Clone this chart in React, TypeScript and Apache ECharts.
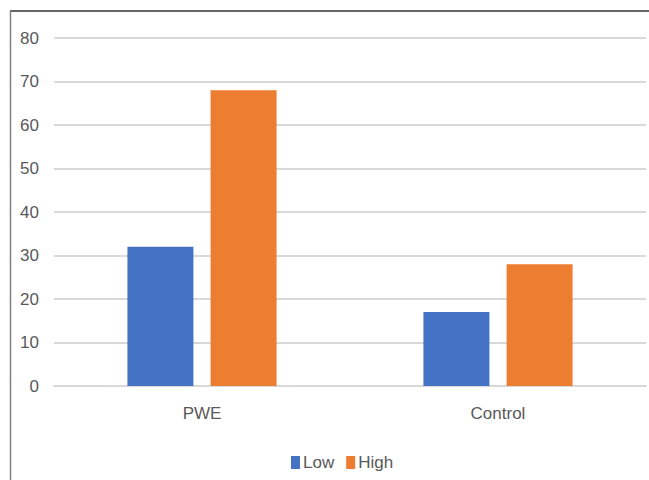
import React, { useEffect, useRef } from "react";
import * as echarts from "echarts";

const categories = ["PWE", "Control"];
const lowValues = [32, 17];
const highValues = [68, 28];
const yTicks = { min: 0, max: 80, interval: 10 };

export default function App() {
  const ref = useRef<HTMLDivElement>(null);
  useEffect(() => {
    if (!ref.current) return;
    const chart = echarts.init(ref.current, null, { renderer: "svg" });
    const font = "'Liberation Sans', Arial, sans-serif";
    chart.setOption({
      animation: false,
      backgroundColor: "#ffffff",
      grid: { left: 54, right: 3, top: 38, bottom: 94, containLabel: false },
      legend: {
        left: 286,
        top: 449,
        itemWidth: 9,
        itemHeight: 13,
        itemGap: 12,
        icon: "rect",
        textStyle: { fontFamily: font, fontSize: 17, color: "#595959", padding: [0, 0, 0, -2] },
        data: ["Low", "High"],
      },
      xAxis: {
        type: "category",
        data: categories,
        axisLine: { show: true, lineStyle: { color: "#D9D9D9", width: 2 } },
        axisTick: { show: false },
        axisLabel: { fontFamily: font, fontSize: 17, color: "#595959", margin: 19 },
      },
      yAxis: {
        type: "value",
        min: yTicks.min,
        max: yTicks.max,
        interval: yTicks.interval,
        axisLine: { show: false },
        axisTick: { show: false },
        splitLine: { lineStyle: { color: "#D9D9D9", width: 2 } },
        axisLabel: { fontFamily: font, fontSize: 17, color: "#595959", margin: 15 },
      },
      series: [
        {
          name: "Low",
          type: "bar",
          data: lowValues,
          barWidth: 66,
          barGap: "26%",
          itemStyle: { color: "#4472C4" },
        },
        {
          name: "High",
          type: "bar",
          data: highValues,
          barWidth: 66,
          itemStyle: { color: "#ED7D31" },
        },
      ],
      graphic: [
        { type: "line", shape: { x1: 10, y1: 11, x2: 649, y2: 11 }, style: { stroke: "#333333", lineWidth: 1.5 } },
        { type: "line", shape: { x1: 10.5, y1: 11, x2: 10.5, y2: 480 }, style: { stroke: "#808080", lineWidth: 1.5 } },
      ],
    });
    return () => chart.dispose();
  }, []);
  return (
    <div
      ref={ref}
      style={{ position: "fixed", left: 0, top: 0, width: 649, height: 480 }}
    />
  );
}
